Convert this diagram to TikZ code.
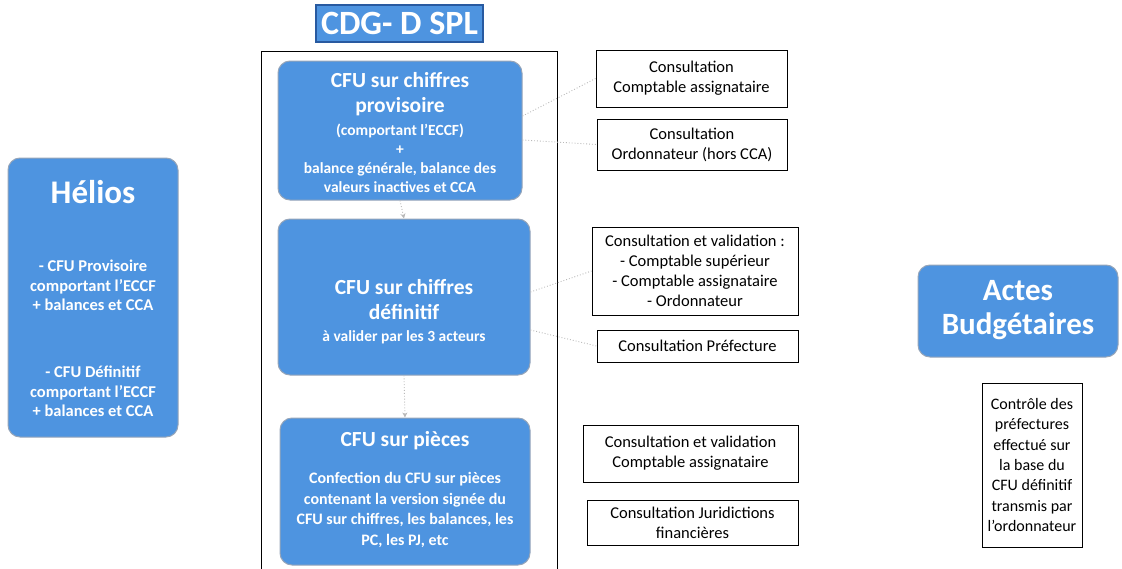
\documentclass[tikz,border=0pt]{standalone}
\usepackage{fontspec}
\setmainfont{Carlito}
\usetikzlibrary{arrows.meta}
\definecolor{cfublue}{RGB}{78,148,224}
\definecolor{cfuedge}{RGB}{150,165,185}
\definecolor{titleedge}{RGB}{40,90,160}
\tikzset{
  bluebox/.style={draw=cfuedge, line width=1pt, fill=cfublue, rounded corners=12pt, inner sep=0pt},
  wtxt/.style={text=white, align=center, inner sep=0pt},
  infobox/.style={draw=black, line width=0.9pt, fill=white, align=center, inner sep=0pt,
    font=\fontsize{16.5}{20}\selectfont},
  faint/.style={draw=gray!55, dotted, line width=0.9pt},
  faintarrow/.style={faint, -{Stealth[length=5pt,width=5pt]}},
}
\begin{document}
\begin{tikzpicture}[x=1pt,y=-1pt]
\useasboundingbox (0,0) rectangle (1122,568);
% frame
\draw[line width=1pt] (261,569) |- (557,51) -- (557,569);
% title
\node[draw=titleedge, line width=1.2pt, fill=cfublue, text=white, minimum width=167pt, minimum height=37pt, inner sep=0pt,
  font=\fontsize{34}{36}\selectfont\bfseries] (title) at (399.5,23.5) {CDG- D SPL};
% CDG boxes
\node[bluebox, minimum width=244pt, minimum height=139pt] (b1) at (400,130.5) {};
\node[wtxt, font=\fontsize{21.5}{25}\selectfont\bfseries] (b1t) at (400,94) {CFU sur chiffres\\ provisoire};
\node[wtxt, font=\fontsize{15.5}{19}\selectfont\bfseries] (b1s) at (400,158.5) {(comportant l'ECCF)\\ +\\ balance générale, balance des\\ valeurs inactives et CCA};
\node[bluebox, minimum width=252pt, minimum height=156pt] (b2) at (404,297) {};
\node[wtxt, font=\fontsize{21.5}{25}\selectfont\bfseries] (b2t) at (404,300) {CFU sur chiffres\\ définitif};
\node[wtxt, font=\fontsize{15.5}{19}\selectfont\bfseries] (b2s) at (404,337) {à valider par les 3 acteurs};
\node[bluebox, minimum width=250pt, minimum height=147pt] (b3) at (405,491.5) {};
\node[wtxt, font=\fontsize{21.5}{25}\selectfont\bfseries] (b3t) at (405,441) {CFU sur pièces};
\node[wtxt, font=\fontsize{16}{20.5}\selectfont\bfseries] (b3s) at (405,510) {Confection du CFU sur pièces\\ contenant la version signée du\\ CFU sur chiffres, les balances, les\\ PC, les PJ, etc};
% Helios
\node[bluebox, minimum width=170pt, minimum height=279pt] (helios) at (93,297.5) {};
\node[wtxt, font=\fontsize{33}{35}\selectfont\bfseries] (heltitle) at (93,192) {Hélios};
\node[wtxt, font=\fontsize{16.5}{19.5}\selectfont\bfseries] (help) at (93,285.5) {- CFU Provisoire\\ comportant l'ECCF\\ + balances et CCA};
\node[wtxt, font=\fontsize{16.5}{19.5}\selectfont\bfseries] (held) at (93,391.5) {- CFU Définitif\\ comportant l'ECCF\\ + balances et CCA};
% right boxes
\node[infobox, minimum width=191pt, minimum height=57pt] (ra) at (691.5,78.5) {Consultation\\ Comptable assignataire};
\node[infobox, minimum width=190pt, minimum height=51pt] (rb) at (692,144.5) {Consultation\\ Ordonnateur (hors CCA)};
\node[infobox, minimum width=206pt, minimum height=88pt] (rc) at (695,271) {Consultation et validation :\\ - Comptable supérieur\\ - Comptable assignataire\\ - Ordonnateur};
\node[infobox, minimum width=201pt, minimum height=32pt] (rd) at (697.5,346) {Consultation Préfecture};
\node[infobox, minimum width=215pt, minimum height=57pt] (re) at (690.5,453.5) {Consultation et validation\\ Comptable assignataire};
\node[infobox, minimum width=211pt, minimum height=45pt] (rf) at (692.5,522.5) {Consultation Juridictions\\ financières};
% Actes
\node[bluebox, minimum width=200pt, minimum height=92pt] (actes) at (1018,311) {};
\node[wtxt, font=\fontsize{31}{34}\selectfont\bfseries] (actest) at (1018,310) {Actes\\ Budgétaires};
\node[infobox, minimum width=100pt, minimum height=164pt, font=\fontsize{16}{20.3}\selectfont] (ctrl) at (1032,465) {Contrôle des\\ préfectures\\ effectué sur\\ la base du\\ CFU définitif\\ transmis par\\ l'ordonnateur};
% faint connectors
\draw[faintarrow] (b1.south) -- (b2.north);
\draw[faintarrow] (b2.south) -- (b3.north);
\draw[faint] (b1.east |- 0,116) -- (ra.west);
\draw[faint] (b1.east |- 0,140) -- (rb.west);
\draw[faint] (b2.east |- 0,292) -- (rc.west);
\draw[faint] (b2.east |- 0,330) -- (rd.west);
\end{tikzpicture}
\end{document}
